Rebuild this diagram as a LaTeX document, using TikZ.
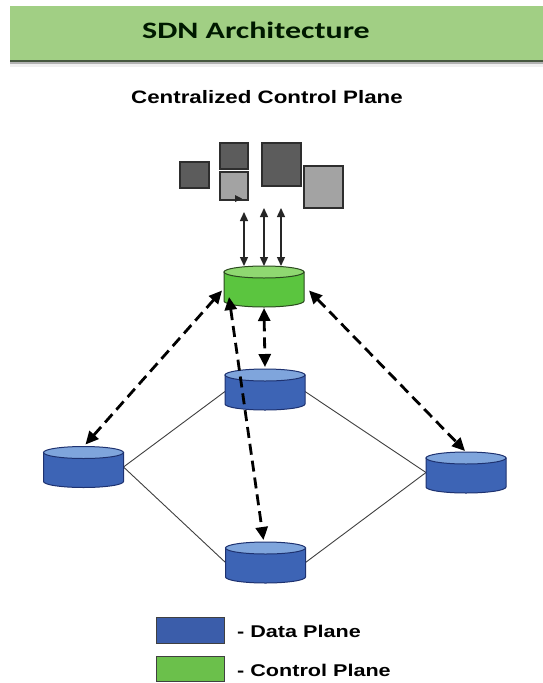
\documentclass[tikz,border=0pt]{standalone}
\usepackage{fontspec}
\usepackage{graphicx}
\setmainfont{Liberation Sans}
\newfontfamily\titlefont{Carlito}
\usetikzlibrary{arrows.meta}

\definecolor{hdrgreen}{HTML}{A1CF84}
\definecolor{hdrline}{HTML}{46573F}
\definecolor{sqdark}{HTML}{5C5C5C}
\definecolor{sqlight}{HTML}{A3A3A3}
\definecolor{sqedge}{HTML}{2E2E2E}
\definecolor{bluebody}{HTML}{3D64B5}
\definecolor{bluetop}{HTML}{7FA5DC}
\definecolor{blueedge}{HTML}{1E3270}
\definecolor{greenbody}{HTML}{5BC53F}
\definecolor{greentop}{HTML}{8FD871}
\definecolor{greenedge}{HTML}{2B4A1F}
\definecolor{legblue}{HTML}{3B5DAA}
\definecolor{leggreen}{HTML}{6BC04B}

% cylinder drawn inside the box of a named node: body first, then the lid
\newcommand\drawcyl[4]{%
  \filldraw[fill=#2,draw=#4,line width=1pt]
    ([yshift=-6pt]#1.north west) -- ([yshift=6pt]#1.south west)
    arc[start angle=180,end angle=360,x radius=40pt,y radius=6pt]
    -- ([yshift=-6pt]#1.north east) -- cycle;
  \filldraw[fill=#3,draw=#4,line width=1pt]
    ([yshift=-6pt]#1.north) ellipse[x radius=40pt,y radius=6pt];
}

\begin{document}
\begin{tikzpicture}[x=1pt,y=-1pt,
  sq/.style={draw=sqedge,line width=1.3pt,inner sep=0pt,outer sep=0pt},
  darksq/.style={sq,fill=sqdark},
  lightsq/.style={sq,fill=sqlight},
  cylbox/.style={inner sep=0pt,outer sep=0pt,minimum width=80pt,minimum height=41pt},
  link/.style={draw=black!75,line width=0.9pt},
  ctrl/.style={draw=black!85,line width=1.4pt,
    {Triangle[length=9pt,width=8pt]}-{Triangle[length=9pt,width=8pt]}},
  dasharrow/.style={draw=black,line width=2.8pt,dash pattern=on 11pt off 6pt,
    {Triangle[length=13pt,width=12pt]}-{Triangle[length=13pt,width=12pt]}},
  legbox/.style={draw=black!75,line width=1pt,inner sep=0pt,minimum width=68pt,minimum height=26pt},
  legtext/.style={anchor=base west,inner sep=0pt,font=\fontsize{17}{20}\selectfont\bfseries}
]
\useasboundingbox (0,0) rectangle (543,683);
\fill[white] (0,0) rectangle (543,683);

% header band
\fill[hdrgreen] (10,6) rectangle (543,60);
\fill[hdrline] (10,60) rectangle (543,62);
\fill[black!30] (10,62) rectangle (543,63.5);
\fill[black!6] (10,63.5) rectangle (543,67);
\node[anchor=base,inner sep=0pt,text=black!90!green] (title) at (256,38.5)
  {\scalebox{1.36}[1]{\titlefont\fontsize{23.5}{26}\selectfont\bfseries SDN Architecture}};

\node[anchor=base,inner sep=0pt] (subtitle) at (267,103)
  {\scalebox{1.24}[1]{\fontsize{18}{21}\selectfont\bfseries Centralized Control Plane}};

% applications
\node[darksq,minimum width=29pt,minimum height=26pt] (s1) at (194.5,175) {};
\node[darksq,minimum width=28pt,minimum height=26pt] (s2) at (234,156) {};
\node[lightsq,minimum width=28pt,minimum height=28pt] (s3) at (234,186) {};
\node[darksq,minimum width=39pt,minimum height=43pt] (s4) at (281.5,164.5) {};
\node[lightsq,minimum width=39pt,minimum height=42pt] (s5) at (323.5,187) {};
\fill[black!85] ([xshift=1pt,yshift=5pt]s3.south) -- ([xshift=8pt,yshift=1.5pt]s3.south)
  -- ([xshift=1pt,yshift=-2pt]s3.south) -- cycle;

% controller and switches
\node[cylbox] (ctl) at (264,286.5) {};
\node[cylbox] (mid) at (265,389.5) {};
\node[cylbox] (lft) at (83.5,467) {};
\node[cylbox] (rgt) at (466,472.5) {};
\node[cylbox] (bot) at (265.5,562.5) {};

% data links
\draw[link] ([yshift=-2pt]mid.west) -- (lft.east);
\draw[link] ([yshift=-2pt]mid.east) -- (rgt.west);
\draw[link] (lft.east) -- (bot.west);
\draw[link] (bot.east) -- (rgt.west);

\drawcyl{ctl}{greenbody}{greentop}{greenedge}
\drawcyl{mid}{bluebody}{bluetop}{blueedge}
\drawcyl{lft}{bluebody}{bluetop}{blueedge}
\drawcyl{rgt}{bluebody}{bluetop}{blueedge}
\drawcyl{bot}{bluebody}{bluetop}{blueedge}

% northbound links
\coordinate (t1) at (244,212);
\coordinate (t2) at (264,208);
\coordinate (t3) at (281,208);
\draw[ctrl] (ctl.north -| t1) -- (t1);
\draw[ctrl] (ctl.north -| t2) -- (t2);
\draw[ctrl] (ctl.north -| t3) -- (t3);

% southbound control links
\draw[dasharrow] ([xshift=-2pt,yshift=-4pt]ctl.west) -- ([xshift=2pt,yshift=2pt]lft.north);
\draw[dasharrow] ([xshift=5pt,yshift=-4pt]ctl.east) -- ([xshift=-1pt,yshift=1pt]rgt.north);
\draw[dasharrow] ([yshift=-1pt]ctl.south) -- ([yshift=2pt]mid.north);
\draw[dasharrow] ([xshift=5pt,yshift=10pt]ctl.south west) -- ([xshift=-2pt,yshift=2pt]bot.north);

% legend
\node[legbox,fill=legblue] (kdata) at (190,630) {};
\node[legbox,fill=leggreen,minimum height=25pt] (kctl) at (190,668.5) {};
\node[legtext] (ldata) at (237,637) {\scalebox{1.27}[1]{- Data Plane}};
\node[legtext] (lctl) at (237,676) {\scalebox{1.27}[1]{- Control Plane}};
\end{tikzpicture}
\end{document}
